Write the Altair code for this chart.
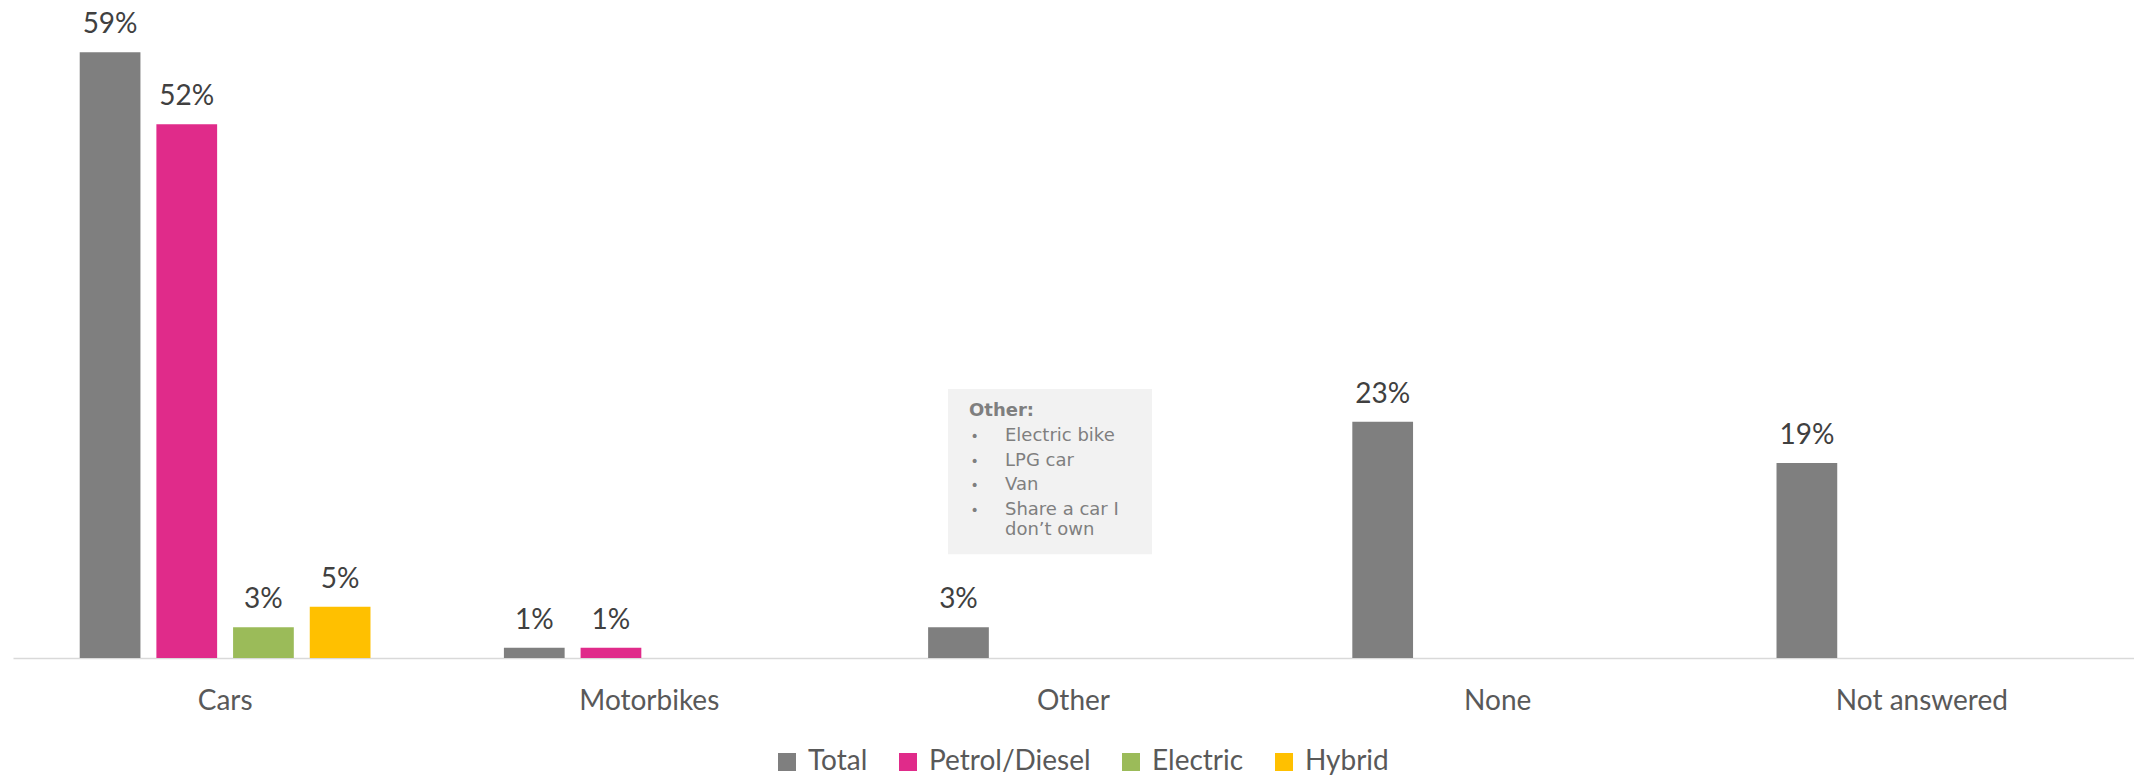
import altair as alt
import pandas as pd

# ---- data ----
categories = ["Cars", "Motorbikes", "Other", "None", "Not answered"]
series = ["Total", "Petrol/Diesel", "Electric", "Hybrid"]
total = [59, 1, 3, 23, 19]
petrol_diesel = [52, 1, None, None, None]
electric = [3, None, None, None, None]
hybrid = [5, None, None, None, None]
colors = ["#7f7f7f", "#e02b8a", "#9bbb59", "#ffc000"]

note_category = "Other"
note_title = "Other:"
note_items = ["Electric bike", "LPG car", "Van", "Share a car I\ndon\u2019t own"]

# ---- tables ----
rows = []
for name, vals in zip(series, [total, petrol_diesel, electric, hybrid]):
    for cat, v in zip(categories, vals):
        if v is not None:
            rows.append({"category": cat, "series": name, "value": v})
df = pd.DataFrame(rows)

note_box = pd.DataFrame({"category": [note_category], "top": [26.2], "bottom": [10.1]})
note_head = pd.DataFrame({"category": [note_category], "text": [note_title], "y": [23.57]})
note_rows = pd.DataFrame({"category": [note_category] * len(note_items),
                          "text": note_items,
                          "row": list(range(len(note_items)))})

FONT = "Lato"
NOTE_FONT = "DejaVu Sans"

x_enc = alt.X(
    "category:N",
    sort=categories,
    scale=alt.Scale(domain=categories, paddingInner=0, paddingOuter=0),
    axis=alt.Axis(
        title=None, labelFont=FONT, labelFontSize=28, labelColor="#595959",
        ticks=False, tickSize=0, labelPadding=51, labelBaseline="alphabetic",
        domainColor="#d9d9d9", domainWidth=1.5, labelAngle=0, grid=False,
    ),
)
xo_enc = alt.XOffset(
    "series:N", sort=series,
    scale=alt.Scale(domain=series, paddingInner=0.208, paddingOuter=0.87),
)
y_enc = alt.Y("value:Q", scale=alt.Scale(domain=[0, 60], nice=False, zero=True), axis=None)

bars = alt.Chart(df).mark_bar().encode(
    x=x_enc,
    xOffset=xo_enc,
    y=y_enc,
    color=alt.Color(
        "series:N", sort=series,
        scale=alt.Scale(domain=series, range=colors),
        legend=alt.Legend(
            title=None, orient="none", legendX=760, legendY=706,
            direction="horizontal", symbolType="square", symbolSize=324,
            symbolStrokeWidth=0, labelFont=FONT, labelFontSize=28,
            labelColor="#595959", labelOffset=7, columnPadding=26, padding=0,
            labelLimit=0,
        ),
    ),
)

labels = alt.Chart(df).transform_calculate(
    label="datum.value + '%'"
).mark_text(
    font=FONT, fontSize=28, color="#404040", baseline="alphabetic", dy=-19
).encode(
    x=alt.X("category:N", sort=categories),
    xOffset=alt.XOffset("series:N", sort=series),
    y=alt.Y("value:Q", axis=None),
    text="label:N",
)

box = alt.Chart(note_box).mark_bar(width=204, xOffset=-23.5, color="#f2f2f2").encode(
    x=alt.X("category:N", sort=categories),
    y=alt.Y("top:Q", axis=None),
    y2="bottom:Q",
)

head = alt.Chart(note_head).mark_text(
    align="left", baseline="alphabetic", dx=-104.5, font=NOTE_FONT,
    fontSize=18, fontWeight="bold", color="#7f7f7f",
).encode(
    x=alt.X("category:N", sort=categories),
    y=alt.Y("y:Q", axis=None),
    text="text:N",
)

bullets = alt.Chart(note_rows).transform_calculate(
    y="21.14 - datum.row * 2.41", b="'\u2022'"
).mark_text(
    align="left", baseline="alphabetic", dx=-103, font=NOTE_FONT,
    fontSize=14, color="#7f7f7f",
).encode(
    x=alt.X("category:N", sort=categories),
    y=alt.Y("y:Q", axis=None),
    text="b:N",
)

items = alt.Chart(note_rows).transform_calculate(
    y="21.14 - datum.row * 2.41"
).mark_text(
    align="left", baseline="alphabetic", dx=-68.5, font=NOTE_FONT,
    fontSize=18, color="#7f7f7f", lineBreak="\n", lineHeight=19.5,
).encode(
    x=alt.X("category:N", sort=categories),
    y=alt.Y("y:Q", axis=None),
    text="text:N",
)

chart = alt.layer(bars, labels, box, head, bullets, items).properties(
    width=2121,
    height=616,
    padding={"left": 13, "top": 42, "right": 0, "bottom": 120},
    autosize=alt.AutoSizeParams(type="none"),
    background="white",
).configure_view(stroke=None)

chart.save("out.html", embed_options={"renderer": "svg", "actions": False})
